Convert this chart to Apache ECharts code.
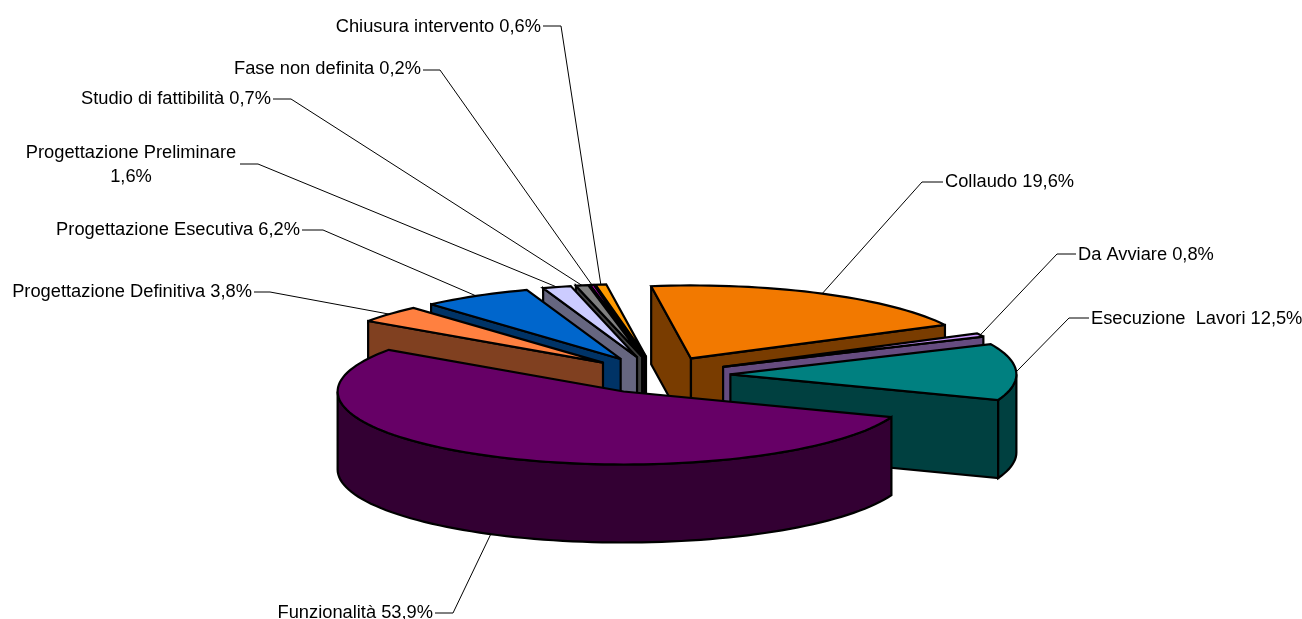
<!DOCTYPE html>
<html><head><meta charset="utf-8">
<style>html,body{margin:0;padding:0;background:#fff;overflow:hidden}#c{width:1302px;height:619px}</style>
<script src="https://cdn.jsdelivr.net/npm/echarts@6/dist/echarts.min.js"></script>
</head><body><div id="c"></div>
<script>
const categories = ['Collaudo','Da Avviare','Esecuzione  Lavori','Funzionalità','Progettazione Definitiva','Progettazione Esecutiva','Progettazione Preliminare','Studio di fattibilità','Fase non definita','Chiusura intervento'];
const values = [19.6,0.8,12.5,53.9,3.8,6.2,1.6,0.7,0.2,0.6];
const valueLabels = ['19,6%','0,8%','12,5%','53,9%','3,8%','6,2%','1,6%','0,7%','0,2%','0,6%'];
const topColors = ['#F27900','#CC99FF','#008080','#660066','#FF8040','#0066CC','#CCCCFF','#808080','#FF00FF','#FF9900'];
const wallColors = ['#793C00','#664C80','#004040','#330033','#804020','#003366','#666680','#404040','#800080','#804C00'];
// label layout: text x, text y, align, leader start x, elbow x, leader y
const labelLayout = [
  [945,182,'left',943,922,182],
  [1078,255,'left',1076,1057,254],
  [1091,319,'left',1089,1069,318],
  [433,613,'right',435,453,613],
  [252,292,'right',254,270,292],
  [300,230,'right',302,323,230],
  [131,165,'center',240,258,164],
  [271,99,'right',273,291,99],
  [421,69,'right',423,440,70],
  [541,27,'right',543,561,26]
];
const labelBreak = {6:true};

const CX=657.5, CY=375, RX=286, RY=73, DEPTH=78, EXPLODE=0.255, ROT=-8;
const total = values.reduce((a,b)=>a+b,0);
const rad = d => d*Math.PI/180;
const spans = [];
let cum = 0;
values.forEach(v=>{ const a=ROT+cum/total*360; cum+=v; spans.push([a,ROT+cum/total*360]); });
const depthRank = spans.map((s,i)=>[i,-Math.cos(rad((s[0]+s[1])/2))]).sort((a,b)=>a[1]-b[1]);
const rank = {}; depthRank.forEach((d,r)=>{rank[d[0]]=r;});
const pt = (ax,ay,deg,dy)=>[ax+RX*Math.sin(rad(deg)), ay-RY*Math.cos(rad(deg))+(dy||0)];
const arc = (ax,ay,a0,a1,dy)=>{ const n=Math.max(2,Math.ceil(Math.abs(a1-a0)/2)); const o=[]; for(let k=0;k<=n;k++){o.push(pt(ax,ay,a0+(a1-a0)*k/n,dy));} return o; };
const stroke = c=>({fill:c,stroke:'#000',lineWidth:2.2,lineJoin:'miter',miterLimit:3});

function renderItem(params, api){
  const i = params.dataIndex;
  const s = spans[i], a0=s[0], a1=s[1], mid=(a0+a1)/2;
  const ax = CX+EXPLODE*RX*Math.sin(rad(mid)), ay = CY-EXPLODE*RY*Math.cos(rad(mid));
  const z = 10+rank[i]*5;
  const kids = [];
  const wallPoly = pts => kids.push({type:'polygon',z2:z,shape:{points:pts},style:stroke(wallColors[i]),silent:true});
  const radial = deg => { const o=pt(ax,ay,deg); wallPoly([[ax,ay],o,[o[0],o[1]+DEPTH],[ax,ay+DEPTH]]); };
  if(Math.sin(rad(a0))<0) radial(a0);
  if(Math.sin(rad(a1))>0) radial(a1);
  const f0=Math.max(a0,90), f1=Math.min(a1,270);
  if(f1>f0){ wallPoly(arc(ax,ay,f0,f1,0).concat(arc(ax,ay,f1,f0,DEPTH))); }
  kids.push({type:'polygon',z2:z+1,shape:{points:[[ax,ay]].concat(arc(ax,ay,a0,a1,0))},style:stroke(topColors[i]),silent:true});
  const L = labelLayout[i];
  const end = pt(ax,ay,mid,Math.cos(rad(mid))<0?DEPTH:0);
  kids.push({type:'polyline',z2:200,shape:{points:[[L[3],L[5]],[L[4],L[5]],end]},style:{fill:null,stroke:'#000',lineWidth:1},silent:true});
  const txt = categories[i]+(labelBreak[i]?'\n':' ')+valueLabels[i];
  kids.push({type:'text',z2:201,x:L[0],y:L[1],style:{text:txt,fill:'#000',font:'18.3px "Liberation Sans", Arial, sans-serif',align:L[2],verticalAlign:'middle',lineHeight:24},silent:true});
  return {type:'group',children:kids};
}
const chart = echarts.init(document.getElementById('c'),null,{renderer:'canvas'});
chart.setOption({
  animation:false,
  backgroundColor:'#fff',
  series:[{type:'custom',coordinateSystem:'none',renderItem,data:values.map((v,i)=>({name:categories[i],value:v})),silent:true}]
});
</script></body></html>
